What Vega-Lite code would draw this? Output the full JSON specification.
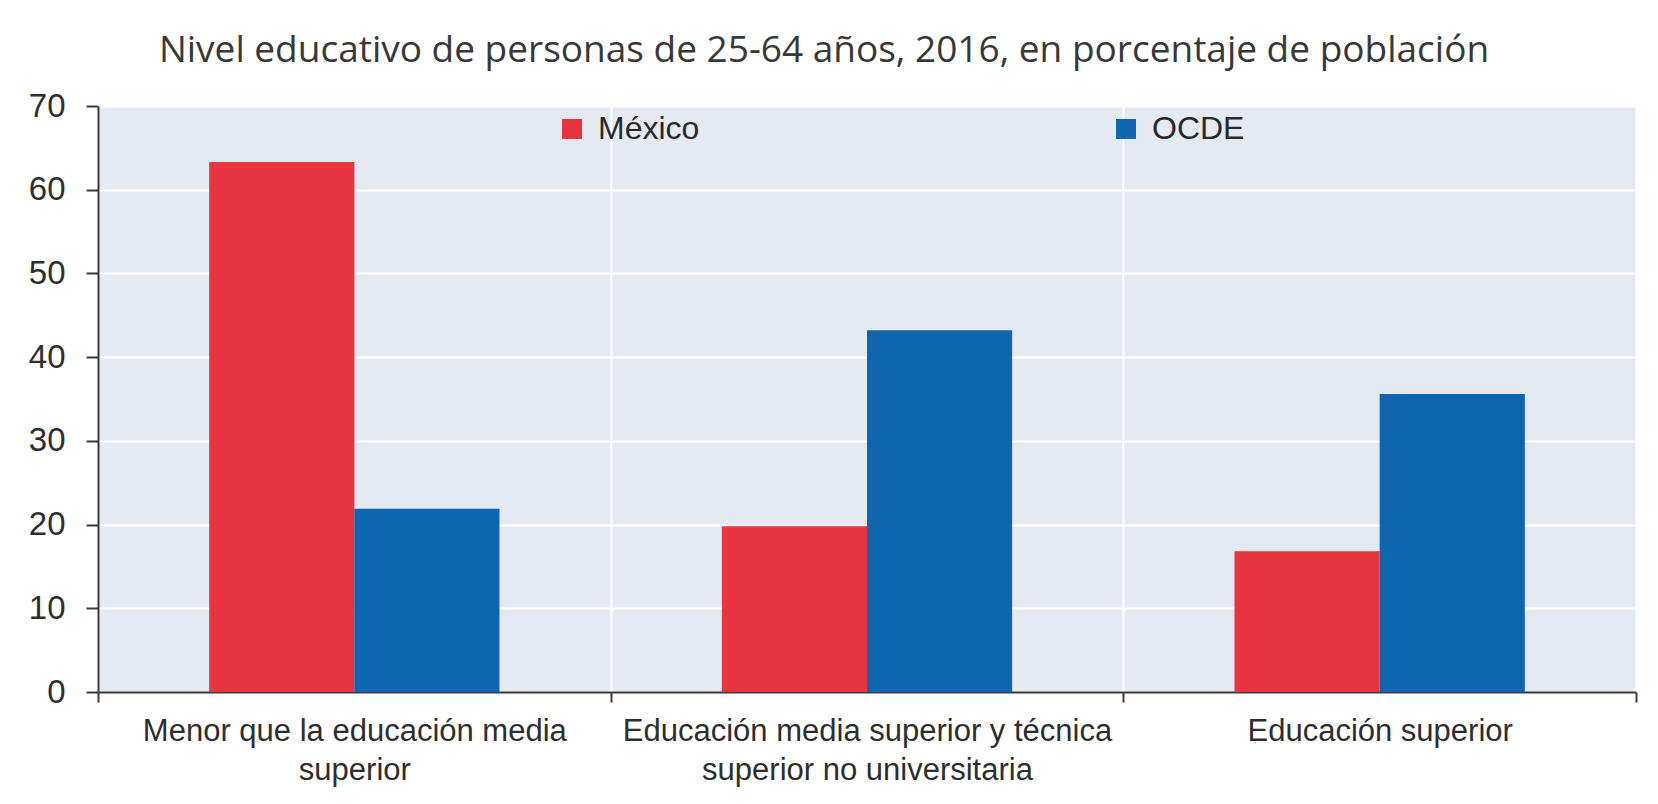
{
  "$schema": "https://vega.github.io/schema/vega-lite/v6.json",
  "autosize": {"type": "none"},
  "width": 1538,
  "height": 586,
  "padding": {"left": 98, "top": 106, "right": 22, "bottom": 112},
  "background": "white",
  "title": {
    "text": "Nivel educativo de personas de 25-64 años, 2016, en porcentaje de población",
    "font": "Open Sans",
    "fontSize": 37,
    "fontWeight": "normal",
    "color": "#383838",
    "frame": "group",
    "anchor": "middle",
    "dx": -43,
    "offset": 20
  },
  "data": {
    "values": [
      {"nivel": "Menor que la educación media superior", "pais": "México", "valor": 63.3},
      {"nivel": "Menor que la educación media superior", "pais": "OCDE", "valor": 21.9},
      {"nivel": "Educación media superior y técnica superior no universitaria", "pais": "México", "valor": 19.8},
      {"nivel": "Educación media superior y técnica superior no universitaria", "pais": "OCDE", "valor": 43.2},
      {"nivel": "Educación superior", "pais": "México", "valor": 16.8},
      {"nivel": "Educación superior", "pais": "OCDE", "valor": 35.6}
    ]
  },
  "mark": "bar",
  "encoding": {
    "x": {
      "field": "nivel",
      "type": "nominal",
      "sort": null,
      "title": null,
      "scale": {"paddingInner": 0, "paddingOuter": 0},
      "axis": {
        "labelAngle": 0,
        "tickBand": "extent",
        "labelExpr": "datum.value == 'Menor que la educación media superior' ? ['Menor que la educación media', 'superior'] : datum.value == 'Educación media superior y técnica superior no universitaria' ? ['Educación media superior y técnica', 'superior no universitaria'] : datum.value",
        "labelLineHeight": 39,
        "labelPadding": 14,
        "labelLimit": 600,
        "tickSize": 10,
        "grid": true
      }
    },
    "xOffset": {"field": "pais", "type": "nominal", "scale": {"paddingInner": 0, "paddingOuter": 0.766}},
    "y": {
      "field": "valor",
      "type": "quantitative",
      "title": null,
      "scale": {"domain": [0, 70]},
      "axis": {"values": [0, 10, 20, 30, 40, 50, 60, 70], "tickSize": 12, "labelPadding": 21, "labelFontSize": 33}
    },
    "color": {
      "field": "pais",
      "type": "nominal",
      "title": null,
      "scale": {"domain": ["México", "OCDE"], "range": ["#e8343f", "#0e66ae"]},
      "legend": {
        "orient": "none",
        "direction": "horizontal",
        "legendX": 458,
        "legendY": 7,
        "symbolType": "square",
        "symbolSize": 400,
        "symbolStrokeWidth": 0,
        "labelOffset": 10,
        "columnPadding": 410,
        "labelFont": "Liberation Sans",
        "labelFontSize": 32,
        "labelColor": "#2a2a2a"
      }
    }
  },
  "config": {
    "font": "Liberation Sans",
    "view": {"fill": "#e5e9f2", "stroke": null},
    "axis": {
      "labelFont": "Liberation Sans",
      "labelFontSize": 31,
      "labelColor": "#2e2e2e",
      "domainColor": "#3a3a3a",
      "domainWidth": 2,
      "tickColor": "#3a3a3a",
      "tickWidth": 2,
      "gridColor": "white",
      "gridWidth": 2,
      "gridOpacity": 1
    }
  }
}
